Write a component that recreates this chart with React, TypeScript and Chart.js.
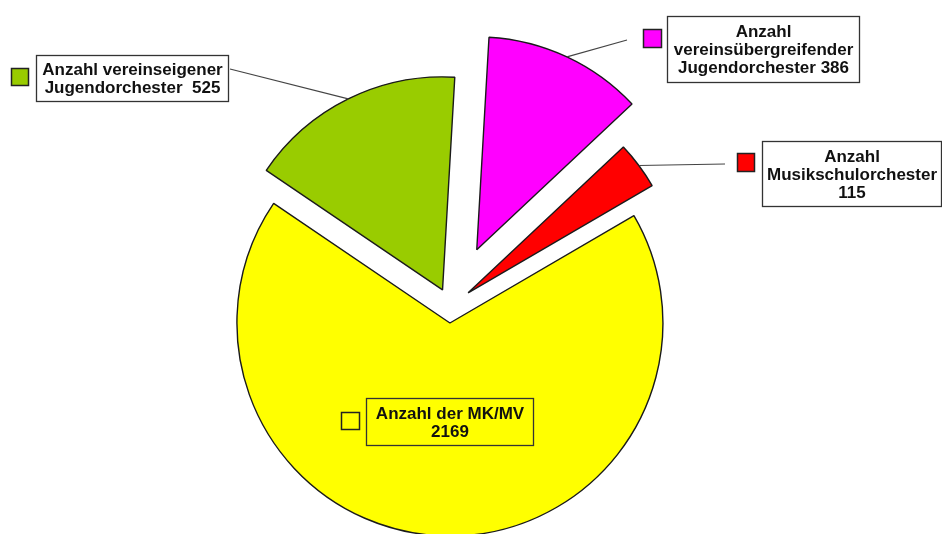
import React, { useEffect, useRef } from 'react';
import { Chart, registerables } from 'chart.js';

Chart.register(...registerables);

// ---- data (clockwise from top) ----
const categories = [
  'Anzahl vereinsübergreifender Jugendorchester',
  'Anzahl Musikschulorchester',
  'Anzahl der MK/MV',
  'Anzahl vereinseigener Jugendorchester',
];
const values = [386, 115, 2169, 525];
const colors = ['#FF00FF', '#FF0000', '#FFFF00', '#99CC00'];
const labelLines = [
  ['Anzahl', 'vereinsübergreifender', `Jugendorchester ${values[0]}`],
  ['Anzahl', 'Musikschulorchester', `${values[1]}`],
  ['Anzahl der MK/MV', `${values[2]}`],
  ['Anzahl vereinseigener', `Jugendorchester  ${values[3]}`],
];
const explodeDistances = [62, 22, 17, 18];

// ---- layout of the label boxes ----
const labelBoxes = [
  { x: 667, y: 16, w: 192, h: 66, key: [643, 29, 18, 18], leaderEnd: [627, 40], fill: '#ffffff' },
  { x: 762, y: 141, w: 179, h: 65, key: [737, 153, 17, 18], leaderEnd: [725, 164], fill: '#ffffff' },
  { x: 366, y: 398, w: 167, h: 47, key: [341, 412, 18, 17], leaderEnd: null, fill: null },
  { x: 36, y: 55, w: 192, h: 46, key: [11, 68, 17, 17], leaderEnd: [230, 69], fill: '#ffffff' },
];

const FONT = 'bold 17px "Liberation Sans", Arial, sans-serif';
const LINE_H = 18;

const explodePlugin = {
  id: 'explodePie',
  beforeDatasetDraw(chart: any, args: any) {
    const ctx = chart.ctx;
    const meta = args.meta;
    meta.data.forEach((arc: any, i: number) => {
      const half = (arc.startAngle + arc.endAngle) / 2;
      const d = explodeDistances[i] || 0;
      ctx.save();
      ctx.translate(Math.cos(half) * d, Math.sin(half) * d);
      arc.draw(ctx);
      ctx.restore();
    });
    return false;
  },
  afterDraw(chart: any) {
    const ctx = chart.ctx;
    const meta = chart.getDatasetMeta(0);
    meta.data.forEach((arc: any, i: number) => {
      const box = labelBoxes[i];
      const half = (arc.startAngle + arc.endAngle) / 2;
      const r = arc.outerRadius + (explodeDistances[i] || 0);
      const mx = arc.x + Math.cos(half) * r;
      const my = arc.y + Math.sin(half) * r;
      ctx.save();
      if (box.leaderEnd) {
        ctx.strokeStyle = '#444';
        ctx.lineWidth = 1.1;
        ctx.beginPath();
        ctx.moveTo(mx, my);
        ctx.lineTo(box.leaderEnd[0], box.leaderEnd[1]);
        ctx.stroke();
      }
      if (box.fill) {
        ctx.fillStyle = box.fill;
        ctx.fillRect(box.x, box.y, box.w, box.h);
      }
      ctx.strokeStyle = '#333';
      ctx.lineWidth = 1.3;
      ctx.strokeRect(box.x + 0.5, box.y + 0.5, box.w, box.h);
      // key square
      const [kx, ky, kw, kh] = box.key;
      ctx.fillStyle = colors[i];
      ctx.fillRect(kx, ky, kw, kh);
      ctx.strokeStyle = '#222';
      ctx.lineWidth = 1.5;
      ctx.strokeRect(kx + 0.5, ky + 0.5, kw, kh);
      // text
      const lines = labelLines[i];
      ctx.font = FONT;
      ctx.fillStyle = '#111';
      ctx.textAlign = 'center';
      ctx.textBaseline = 'alphabetic';
      const cy = box.y + box.h / 2;
      const cx = box.x + box.w / 2 + 0.5;
      lines.forEach((t, j) => {
        const by = cy - ((lines.length - 1) / 2) * LINE_H + 6 + j * LINE_H;
        ctx.fillText(t, cx, by);
      });
      ctx.restore();
    });
  },
};

export default function App() {
  const canvasRef = useRef<HTMLCanvasElement | null>(null);

  useEffect(() => {
    const canvas = canvasRef.current;
    if (!canvas) return;
    const chart = new Chart(canvas, {
      type: 'pie',
      data: {
        labels: categories,
        datasets: [
          {
            data: values,
            backgroundColor: colors,
            borderColor: '#1a1a1a',
            borderWidth: 1.4,
          },
        ],
      },
      options: {
        responsive: false,
        animation: false,
        devicePixelRatio: 1,
        rotation: 3.3,
        radius: 213,
        layout: { padding: { left: 0, right: 41, top: 78, bottom: 0 } },
        plugins: {
          legend: { display: false },
          tooltip: { enabled: false },
        },
        events: [],
      } as any,
      plugins: [explodePlugin as any],
    });
    return () => chart.destroy();
  }, []);

  return (
    <div style={{ position: 'fixed', left: 0, top: 0, width: 942, height: 534, background: '#ffffff' }}>
      <canvas ref={canvasRef} width={942} height={534} style={{ display: 'block' }} />
    </div>
  );
}
